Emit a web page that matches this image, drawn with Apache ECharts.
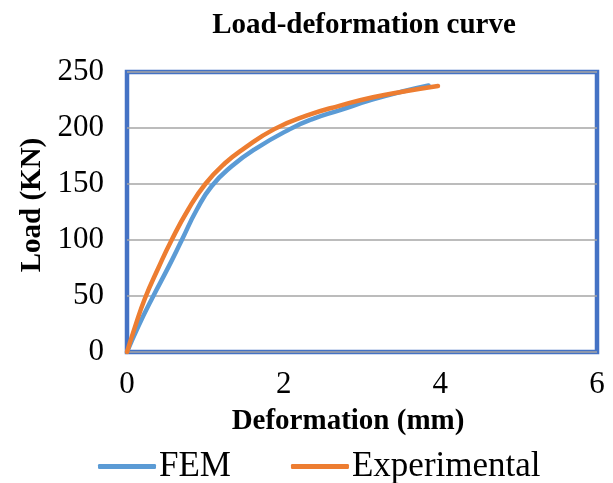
<!DOCTYPE html>
<html>
<head>
<meta charset="utf-8">
<script src="https://cdn.jsdelivr.net/npm/echarts@6/dist/echarts.min.js"></script>
<style>html,body{margin:0;padding:0;background:#fff}#c{width:613px;height:483px}</style>
</head>
<body>
<div id="c"></div>
<script>
var titleText = 'Load-deformation curve';
var xName = 'Deformation (mm)';
var yName = 'Load (KN)';
var seriesNames = ['FEM', 'Experimental'];
var femData = [[0,0],[0.145,23],[0.336,50],[0.53,76],[0.70,100],[0.89,127],[1.08,148],[1.34,166],[1.63,181],[2.08,199],[2.35,207.5],[2.72,216],[3.14,225.5],[3.57,233.5],[3.85,238]];
var expData = [[0,0],[0.1,22],[0.23,48],[0.4,75],[0.57,100],[0.78,127],[1.0,150],[1.25,168.5],[1.5,182],[1.88,199],[2.29,211],[2.72,220],[3.14,227.5],[3.57,233],[3.97,237.5]];
var xTicks = {min:0, max:6, interval:2};
var yTicks = {min:0, max:250, interval:50};

var font = 'Liberation Serif';
var chart = echarts.init(document.getElementById('c'));
chart.setOption({
  animation:false,
  title:{text:titleText,left:359,top:6,textAlign:'center',
    textStyle:{fontFamily:font,fontWeight:'bold',fontSize:29,color:'#000'}},
  grid:{left:127,right:16,top:72,bottom:131,show:true,borderColor:'#4472C4',borderWidth:4.5,backgroundColor:'#fff',
    containLabel:false,outerBoundsMode:'none'},
  legend:{top:444,left:93,itemGap:60,itemWidth:58,itemHeight:5,
    icon:'roundRect',
    textStyle:{fontFamily:font,fontSize:35,color:'#000',padding:[0,0,0,-2]},
    data:seriesNames},
  xAxis:{type:'value',min:xTicks.min,max:xTicks.max,interval:xTicks.interval,
    name:xName,nameLocation:'middle',nameGap:55,
    nameTextStyle:{fontFamily:font,fontWeight:'bold',fontSize:29,color:'#000',padding:[0,28,0,0]},
    axisLine:{show:false},axisTick:{show:false},splitLine:{show:false},
    axisLabel:{fontFamily:font,fontSize:31,color:'#000',margin:17}},
  yAxis:{type:'value',min:yTicks.min,max:yTicks.max,interval:yTicks.interval,
    name:yName,nameLocation:'middle',nameGap:78,
    nameTextStyle:{fontFamily:font,fontWeight:'bold',fontSize:29,color:'#000',padding:[0,0,0,14]},
    axisLine:{show:false},axisTick:{show:false},
    splitLine:{lineStyle:{color:'#A6A6A6',width:1.5}},
    axisLabel:{fontFamily:font,fontSize:31,color:'#000',margin:23}},
  series:[
    {name:seriesNames[0],type:'line',data:femData,smooth:0.5,showSymbol:false,
     lineStyle:{color:'#5B9BD5',width:4.5,cap:'round'},itemStyle:{color:'#5B9BD5'}},
    {name:seriesNames[1],type:'line',data:expData,smooth:0.5,showSymbol:false,
     lineStyle:{color:'#ED7D31',width:4.5,cap:'round'},itemStyle:{color:'#ED7D31'}}
  ]
});
</script>
</body>
</html>
